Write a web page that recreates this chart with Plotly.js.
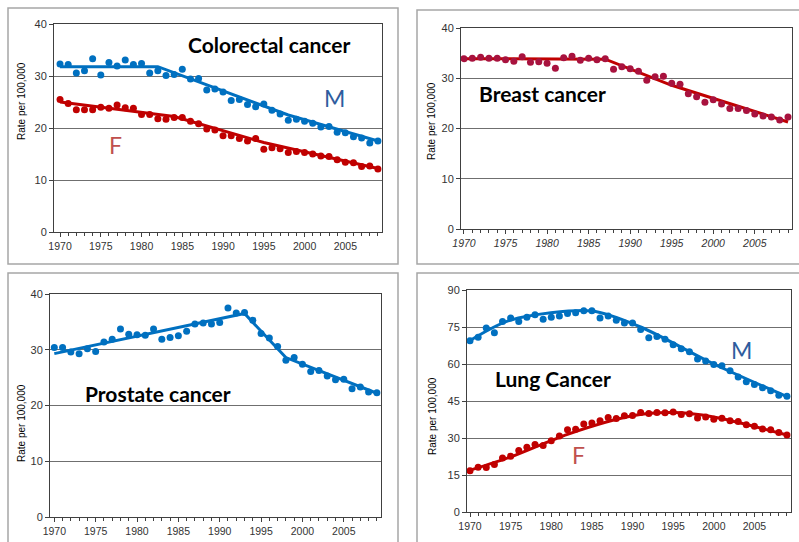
<!DOCTYPE html>
<html><head><meta charset="utf-8">
<script src="https://cdn.plot.ly/plotly-3.0.1.min.js"></script>
<style>html,body{margin:0;padding:0;background:#fff;}#chart{width:799px;height:542px;}</style>
</head><body><div id="chart"></div>
<script>
const years = [];
for (let y = 1970; y <= 2009; y++) years.push(y);
const xTickVals = [1970,1975,1980,1985,1990,1995,2000,2005];
const xTickText = ['1970','1975','1980','1985','1990','1995','2000','2005'];

// Colorectal
const colorectalM = [32.3,32.2,30.6,31.0,33.3,30.2,32.6,31.9,33.1,32.2,32.4,30.6,31.0,30.1,30.3,31.3,29.4,29.5,27.3,27.5,26.9,25.3,25.5,24.5,24.1,24.6,23.4,22.7,21.5,21.7,21.3,20.9,20.2,20.3,19.2,19.1,18.3,18.1,17.1,17.5];
const colorectalF = [25.5,24.7,23.5,23.5,23.5,24.0,23.8,24.4,23.9,23.8,22.6,22.6,21.8,21.7,22.0,22.0,21.3,20.8,19.8,19.6,18.5,18.5,18.0,17.5,18.0,15.9,16.2,16.0,15.3,15.5,15.3,15.0,14.6,14.5,13.9,13.4,13.3,12.6,12.7,12.1];
const colorectalMTrendX = [1970,1982,1998,2009];
const colorectalMTrendY = [31.8,31.8,22.5,17.5];
const colorectalFTrendX = [1970,1984,1995,2009];
const colorectalFTrendY = [25.0,22.2,17.2,12.2];

// Breast
const breastF = [33.9,34.0,34.2,34.0,34.0,33.7,33.4,34.3,33.2,33.3,33.0,32.0,34.1,34.4,33.6,34.0,33.7,33.9,31.8,32.3,31.9,31.4,29.6,30.3,30.4,29.0,28.8,26.9,26.3,25.2,25.7,24.9,24.0,24.0,23.6,22.9,22.5,22.3,21.7,22.3];
const breastTrendX = [1970,1987,1995,2009];
const breastTrendY = [33.9,33.8,28.6,21.3];

// Prostate
const prostateM = [30.4,30.4,29.6,29.3,30.2,29.7,31.4,31.9,33.7,32.8,32.7,32.6,33.7,31.9,32.2,32.5,33.3,34.6,34.8,34.6,34.9,37.5,36.6,36.7,35.3,32.9,32.1,30.6,28.1,28.6,27.4,26.1,26.3,25.3,24.6,24.7,23.0,23.3,22.4,22.3];
const prostateTrendX = [1970,1993,1998,2009];
const prostateTrendY = [29.3,36.5,28.6,22.2];

// Lung
const lungM = [69.4,70.8,74.6,72.7,77.2,78.6,77.2,79.0,80.0,78.1,79.0,79.5,80.5,80.8,81.6,81.6,78.6,79.5,77.7,76.6,76.6,74.0,70.6,71.1,70.0,67.8,66.2,65.0,62.0,61.2,59.8,59.3,57.3,54.7,52.8,51.7,50.4,49.2,47.3,46.9];
const lungF = [16.7,18.1,18.0,19.3,21.9,22.6,24.9,26.3,27.4,27.0,28.9,30.8,33.3,33.5,35.7,36.1,37.0,38.3,37.9,39.0,39.1,40.3,39.9,40.3,40.2,40.5,39.5,39.8,38.1,38.5,37.6,38.0,37.0,36.7,35.4,34.8,33.6,33.3,32.2,31.2];
const lungMTrendX = [1970,1975,1985,1991,2000,2009];
const lungMTrendY = [69.5,77.8,81.5,75.0,60.0,46.8];
const lungFTrendX = [1970,1975,1982,1990,1995,2000,2009];
const lungFTrendY = [17.0,22.3,31.5,39.0,40.3,38.5,31.2];

const W = 799, H = 542;
const BLUE = '#0070C0', RED = '#C00000', BREAST = '#A8123E';
const px = v => v / W;
const py = v => 1 - v / H;

function line(x, y, color, xa, ya, shape) {
  return {x, y, xaxis: xa, yaxis: ya, type: 'scatter', mode: 'lines',
    line: {color, width: 3, shape: shape || 'linear', smoothing: 0.8}, hoverinfo: 'skip', showlegend: false};
}
function pts(y, color, xa, ya) {
  return {x: years, y, xaxis: xa, yaxis: ya, type: 'scatter', mode: 'markers',
    marker: {color, size: 7}, showlegend: false};
}

const traces = [
  line(colorectalMTrendX, colorectalMTrendY, BLUE, 'x', 'y'),
  line(colorectalFTrendX, colorectalFTrendY, RED, 'x', 'y'),
  pts(colorectalM, BLUE, 'x', 'y'),
  pts(colorectalF, RED, 'x', 'y'),
  line(breastTrendX, breastTrendY, RED, 'x2', 'y2'),
  pts(breastF, BREAST, 'x2', 'y2'),
  line(prostateTrendX, prostateTrendY, BLUE, 'x3', 'y3'),
  pts(prostateM, BLUE, 'x3', 'y3'),
  line(lungMTrendX, lungMTrendY, BLUE, 'x4', 'y4', 'spline'),
  line(lungFTrendX, lungFTrendY, RED, 'x4', 'y4', 'spline'),
  pts(lungM, BLUE, 'x4', 'y4'),
  pts(lungF, RED, 'x4', 'y4')
];

function xax(l, r, lo, hi, anchor, italic) {
  return {domain: [px(l), px(r)], range: [lo, hi], anchor, tickvals: xTickVals, ticktext: xTickText,
    ticks: 'outside', ticklen: 4, tickcolor: '#404040', showgrid: false, zeroline: false,
    showline: true, linecolor: '#404040', linewidth: 1, mirror: true,
    tickfont: {family: 'Liberation Sans, Arial, sans-serif', size: 10.5, color: '#333', style: italic ? 'italic' : 'normal'},
    minor: {tickvals: years, ticks: 'outside', ticklen: 3, tickcolor: '#404040', showgrid: false}};
}
function yax(t, b, hi, dt, anchor) {
  return {domain: [py(b), py(t)], range: [0, hi], dtick: dt, anchor, ticks: 'outside', ticklen: 4, tickcolor: '#404040',
    showgrid: true, gridcolor: '#6F6F6F', gridwidth: 1, zeroline: false,
    showline: true, linecolor: '#404040', linewidth: 1, mirror: true,
    tickfont: {family: 'Liberation Sans, Arial, sans-serif', size: 11, color: '#333'}};
}

const titleFont = {family: 'Lato, Open Sans, sans-serif', size: 21, color: '#000', weight: 'bold'};
function ann(x, y, text, font, extra) {
  return Object.assign({xref: 'paper', yref: 'paper', x: px(x), y: py(y), text, showarrow: false,
    xanchor: 'center', yanchor: 'middle', font}, extra || {});
}
const axFont = {family: 'Liberation Sans, Arial, sans-serif', size: 10, color: '#000'};
const mFont = {family: 'Lato, Open Sans, sans-serif', size: 23, color: '#2E5C9E'};
const fFont = {family: 'Lato, Open Sans, sans-serif', size: 23, color: '#C0504D'};

const boxLine = {color: '#A6A6A6', width: 1.5};
const layout = {
  width: W, height: H, margin: {l: 0, r: 0, t: 0, b: 0},
  paper_bgcolor: '#fff', plot_bgcolor: '#fff', showlegend: false,
  xaxis: xax(54, 382, 1969.26, 2009.5, 'y', false),
  yaxis: yax(24, 232, 40, 10, 'x'),
  xaxis2: xax(461, 792, 1969.64, 2009.48, 'y2', true),
  yaxis2: yax(28, 229, 40, 10, 'x2'),
  xaxis3: xax(50, 381, 1969.48, 2009.5, 'y3', false),
  yaxis3: yax(294, 517, 40, 10, 'x3'),
  xaxis4: xax(467, 791, 1969.63, 2009.5, 'y4', false),
  yaxis4: yax(290, 512, 90, 15, 'x4'),
  shapes: [
    {type: 'rect', xref: 'paper', yref: 'paper', x0: px(8), x1: px(398), y0: py(264), y1: py(8), line: boxLine, layer: 'below'},
    {type: 'rect', xref: 'paper', yref: 'paper', x0: px(417), x1: px(806), y0: py(264), y1: py(10), line: boxLine, layer: 'below'},
    {type: 'rect', xref: 'paper', yref: 'paper', x0: px(8), x1: px(398), y0: py(552), y1: py(273), line: boxLine, layer: 'below'},
    {type: 'rect', xref: 'paper', yref: 'paper', x0: px(417), x1: px(806), y0: py(552), y1: py(273), line: boxLine, layer: 'below'}
  ],
  annotations: [
    ann(269, 45, 'Colorectal cancer', titleFont),
    ann(334, 98, 'M', mFont),
    ann(115, 145, 'F', fFont),
    ann(542, 94, 'Breast cancer', titleFont),
    ann(158, 393, 'Prostate cancer', titleFont),
    ann(553, 378, 'Lung Cancer', titleFont),
    ann(741, 350, 'M', mFont),
    ann(578, 455, 'F', fFont),
    ann(21, 101, 'Rate per 100,000', axFont, {textangle: -90}),
    ann(432, 121, 'Rate per 100,000', axFont, {textangle: -90}),
    ann(21, 423, 'Rate per 100,000', axFont, {textangle: -90}),
    ann(432, 416, 'Rate per 100,000', axFont, {textangle: -90})
  ]
};
Plotly.newPlot('chart', traces, layout, {displayModeBar: false, staticPlot: true});
</script></body></html>
